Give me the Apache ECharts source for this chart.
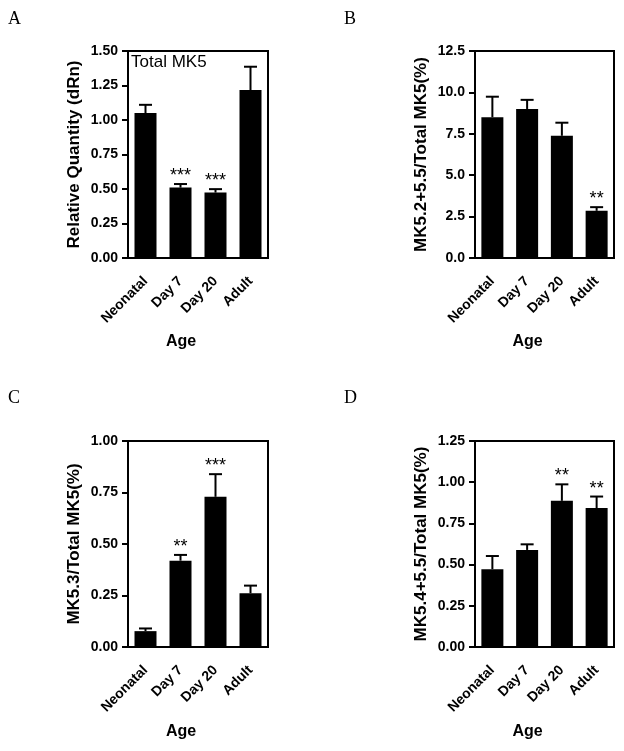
<!DOCTYPE html>
<html>
<head>
<meta charset="utf-8">
<script src="https://cdn.jsdelivr.net/npm/echarts@6/dist/echarts.min.js"></script>
<style>
html,body{margin:0;padding:0;background:#fff;}
#chart{width:624px;height:751px;}
</style>
</head>
<body>
<div id="chart"></div>
<script>
// ---- data ----
const categories = ['Neonatal', 'Day 7', 'Day 20', 'Adult'];

const meanA = [1.05, 0.51, 0.474, 1.217];
const semA  = [0.06, 0.026, 0.025, 0.169];
const sigA  = ['', '***', '***', ''];

const meanB = [8.5, 9.0, 7.38, 2.85];
const semB  = [1.24, 0.55, 0.79, 0.22];
const sigB  = ['', '', '', '**'];

const meanC = [0.077, 0.419, 0.729, 0.261];
const semC  = [0.013, 0.028, 0.11, 0.037];
const sigC  = ['', '**', '***', ''];

const meanD = [0.472, 0.589, 0.887, 0.843];
const semD  = [0.08, 0.034, 0.10, 0.07];
const sigD  = ['', '', '**', '**'];

const yTitleA = 'Relative Quantity (dRn)';
const yTitleB = 'MK5.2+5.5/Total MK5(%)';
const yTitleC = 'MK5.3/Total MK5(%)';
const yTitleD = 'MK5.4+5.5/Total MK5(%)';
const xTitle = 'Age';
const panelLetters = ['A', 'B', 'C', 'D'];
const insetTextA = 'Total MK5';

const yMax = [1.5, 12.5, 1.0, 1.25];
const yStep = [0.25, 2.5, 0.25, 0.25];
const yDecimals = [2, 1, 2, 2];

// ---- layout ----
const FONT = "'Liberation Sans', Arial, sans-serif";
const panels = [
  {mean: meanA, sem: semA, sig: sigA, title: yTitleA, gap: 76, grid: {left: 128, top: 51, width: 140, height: 207}},
  {mean: meanB, sem: semB, sig: sigB, title: yTitleB, gap: 76, grid: {left: 475, top: 51, width: 139, height: 207}},
  {mean: meanC, sem: semC, sig: sigC, title: yTitleC, gap: 77, grid: {left: 128, top: 441, width: 140, height: 206}},
  {mean: meanD, sem: semD, sig: sigD, title: yTitleD, gap: 77, grid: {left: 475, top: 441, width: 139, height: 206}}
];

const grids = [], xAxes = [], yAxes = [], series = [];
panels.forEach((p, k) => {
  grids.push(Object.assign({show: true, borderColor: '#000', borderWidth: 2, backgroundColor: 'transparent'}, p.grid));
  xAxes.push({
    type: 'category', gridIndex: k, data: categories,
    axisLine: {lineStyle: {color: '#000', width: 2}},
    axisTick: {alignWithLabel: true, length: 6, lineStyle: {color: '#000', width: 2}},
    axisLabel: {interval: 0, rotate: 45, margin: 21, color: '#000', fontFamily: FONT, fontWeight: 'bold', fontSize: 14},
    name: xTitle, nameLocation: 'middle', nameGap: p.gap,
    nameTextStyle: {color: '#000', fontFamily: FONT, fontWeight: 'bold', fontSize: 16, padding: [0, 34, 0, 0]}
  });
  yAxes.push({
    type: 'value', gridIndex: k, min: 0, max: yMax[k], interval: yStep[k],
    axisLine: {show: true, lineStyle: {color: '#000', width: 2}},
    axisTick: {show: true, length: 6, lineStyle: {color: '#000', width: 2}},
    splitLine: {show: false},
    axisLabel: {margin: 10, color: '#000', fontFamily: FONT, fontWeight: 'bold', fontSize: 14,
      formatter: v => v.toFixed(yDecimals[k])},
    name: p.title, nameLocation: 'middle', nameGap: 45,
    nameTextStyle: {color: '#000', fontFamily: FONT, fontWeight: 'bold', fontSize: 17}
  });
  series.push({
    type: 'bar', xAxisIndex: k, yAxisIndex: k, data: p.mean, barWidth: 22,
    itemStyle: {color: '#000'}, silent: true
  });
  const errData = p.mean.map((m, i) => [i, m, m + p.sem[i]]);
  series.push({
    type: 'custom', xAxisIndex: k, yAxisIndex: k, data: errData, z: 5, silent: true,
    encode: {x: 0, y: [1, 2]},
    renderItem: (params, api) => {
      const i = api.value(0);
      const base = api.coord([i, api.value(1)]);
      const top = api.coord([i, api.value(2)]);
      const children = [
        {type: 'line', shape: {x1: base[0], y1: base[1], x2: top[0], y2: top[1]}, style: {stroke: '#000', lineWidth: 2}},
        {type: 'line', shape: {x1: top[0] - 6.5, y1: top[1], x2: top[0] + 6.5, y2: top[1]}, style: {stroke: '#000', lineWidth: 2}}
      ];
      const s = p.sig[params.dataIndex];
      if (s) {
        children.push({type: 'text', x: top[0], y: top[1] + 1,
          style: {text: s, fill: '#000', font: '18px ' + FONT, align: 'center', verticalAlign: 'bottom'}});
      }
      return {type: 'group', children};
    }
  });
});

const letterPos = [[8, 10], [344, 10], [8, 389], [344, 389]];
const graphic = panelLetters.map((t, k) => ({
  type: 'text', left: letterPos[k][0], top: letterPos[k][1],
  style: {text: t, fill: '#000', font: "18px 'Liberation Serif', 'Times New Roman', serif"}
}));
graphic.push({type: 'text', left: 131, top: 54,
  style: {text: insetTextA, fill: '#000', font: '17px ' + FONT}});

const chart = echarts.init(document.getElementById('chart'), null, {renderer: 'canvas'});
chart.setOption({
  backgroundColor: '#fff',
  animation: false,
  grid: grids, xAxis: xAxes, yAxis: yAxes, series, graphic
});
</script>
</body>
</html>
